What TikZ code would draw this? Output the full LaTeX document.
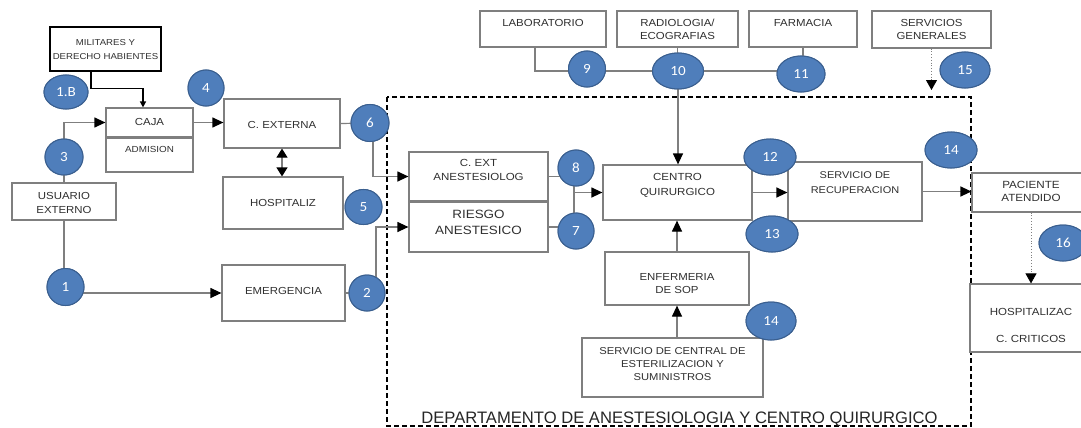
\documentclass[tikz,border=0pt]{standalone}
\usepackage{fontspec}
\setmainfont{Liberation Sans}[FakeStretch=1.12]
\newfontfamily\numfont{Carlito}[FakeStretch=1.08]
\newfontfamily\titlefont{Liberation Sans}
\usetikzlibrary{arrows.meta,shapes.geometric}
\definecolor{boxgray}{HTML}{7F7F7F}
\definecolor{txtgray}{HTML}{303030}
\definecolor{cfill}{HTML}{4F7EBB}
\definecolor{cdraw}{HTML}{3A5F8F}
\newcommand\tx[2]{\raisebox{#1}[\height][\depth]{\begin{tabular}{@{}c@{}}#2\end{tabular}}}
\begin{document}
\begin{tikzpicture}[x=1pt,y=-1pt,
  box/.style={draw=boxgray, line width=1.2pt, fill=white, inner sep=0pt, text=txtgray, font=\fontsize{10.2}{13.5}\selectfont},
  num/.style={ellipse, draw=cdraw, line width=1pt, fill=cfill, text=white, inner sep=0pt, font=\numfont\fontsize{14}{16}\selectfont},
  conn/.style={draw=boxgray, line width=1.2pt},
  arr/.style={conn, -{Triangle[length=11pt,width=10pt,color=black]}},
  darr/.style={conn, {Triangle[length=9pt,width=11pt,color=black]}-{Triangle[length=9pt,width=11pt,color=black]}},
  milarr/.style={draw=black, line width=1.8pt, -{Triangle[length=6pt,width=6pt]}},
  dotarr/.style={draw=gray, line width=0.8pt, dotted, -{Triangle[length=10pt,width=11pt,color=black]}},
  frame/.style={draw=black, line width=1.3pt, dash pattern=on 5pt off 3pt}]
\useasboundingbox (0,0) rectangle (1081,428);
\clip (0,0) rectangle (1081,428);
\fill[white] (0,0) rectangle (1081,428);

% department frame
\draw[frame] (387,97) rectangle (971,426);
\node[anchor=base, font=\titlefont\fontsize{16.6}{20}\selectfont, text=black!85, inner sep=0pt] (title) at (679.5,423) {DEPARTAMENTO DE ANESTESIOLOGIA Y CENTRO QUIRURGICO};

% boxes
\node[box, draw=black, line width=2pt, minimum width=111pt, minimum height=44pt, font=\fontsize{8.6}{14}\selectfont] (mil) at (105.5,49) {\tx{-1pt}{MILITARES Y\\DERECHO HABIENTES}};
\node[box, minimum width=87pt, minimum height=29pt] (caja) at (149.5,122.5) {\tx{0pt}{CAJA}};
\node[box, minimum width=87pt, minimum height=34pt, font=\fontsize{8.8}{12}\selectfont] (adm) at (149.5,155) {\tx{5pt}{ADMISION}};
\node[box, minimum width=104pt, minimum height=37pt, font=\fontsize{10.2}{14}\selectfont] (usu) at (64,201.5) {\tx{-2.5pt}{USUARIO\\EXTERNO}};
\node[box, minimum width=116pt, minimum height=49pt] (cext) at (282,123.5) {\tx{-2pt}{C. EXTERNA}};
\node[box, minimum width=120pt, minimum height=52pt] (hosp) at (283,203) {\tx{-1pt}{HOSPITALIZ}};
\node[box, minimum width=123pt, minimum height=56pt] (emer) at (283.5,293) {\tx{1.5pt}{EMERGENCIA}};
\node[box, minimum width=139pt, minimum height=49pt, font=\fontsize{10.3}{14}\selectfont] (cea) at (478.5,176.5) {\tx{5.5pt}{C. EXT\\ANESTESIOLOG}};
\node[box, minimum width=139pt, minimum height=50pt, font=\fontsize{12}{16}\selectfont] (rie) at (478.5,227) {\tx{4pt}{RIESGO\\ANESTESICO}};
\node[box, minimum width=149pt, minimum height=55pt, font=\fontsize{10.3}{15}\selectfont] (cq) at (677.5,192.5) {\tx{8pt}{CENTRO\\QUIRURGICO}};
\node[box, minimum width=126pt, minimum height=36pt] (lab) at (543,29) {\tx{5pt}{LABORATORIO}};
\node[box, minimum width=121pt, minimum height=36pt, font=\fontsize{10.2}{13}\selectfont] (rad) at (677.5,29) {\tx{-1.5pt}{RADIOLOGIA/\\ECOGRAFIAS}};
\node[box, minimum width=108pt, minimum height=36pt] (far) at (803,29) {\tx{5pt}{FARMACIA}};
\node[box, minimum width=119pt, minimum height=37pt, font=\fontsize{10.2}{13}\selectfont] (sg) at (931.5,29.5) {\tx{-1pt}{SERVICIOS\\GENERALES}};
\node[box, minimum width=134pt, minimum height=59pt, font=\fontsize{9.8}{15}\selectfont] (rec) at (855,191.5) {\tx{9pt}{SERVICIO DE\\RECUPERACION}};
\node[box, minimum width=118pt, minimum height=39pt, font=\fontsize{10.4}{13}\selectfont] (pac) at (1031,192.5) {\tx{0pt}{PACIENTE\\ATENDIDO}};
\node[box, minimum width=122pt, minimum height=68pt, font=\fontsize{10.3}{27}\selectfont] (hc) at (1031,318) {\tx{-5.5pt}{HOSPITALIZAC\\C. CRITICOS}};
\node[box, minimum width=144pt, minimum height=53pt, font=\fontsize{10.2}{13}\selectfont] (enf) at (677,278.5) {\tx{-6pt}{ENFERMERIA\\DE SOP}};
\node[box, minimum width=181pt, minimum height=59pt, font=\fontsize{10}{13}\selectfont] (sce) at (672.5,367.5) {\tx{3pt}{SERVICIO DE CENTRAL DE\\ESTERILIZACION Y\\SUMINISTROS}};

% circles (positions only, drawn later)
\path node[num, minimum width=44pt, minimum height=34pt] (c1b) at (66,92) {}
      node[num, minimum width=38pt, minimum height=36pt] (c3) at (64,157) {}
      node[num, minimum width=36pt, minimum height=36pt] (c4) at (206,88) {}
      node[num, minimum width=38pt, minimum height=37pt] (c6) at (370,123) {}
      node[num, minimum width=37pt, minimum height=35pt] (c5) at (363.5,207) {}
      node[num, minimum width=36pt, minimum height=36pt] (c2) at (367,293) {}
      node[num, minimum width=37pt, minimum height=37pt] (c1) at (65.5,287) {}
      node[num, minimum width=36pt, minimum height=36pt] (c8) at (576,168) {}
      node[num, minimum width=36pt, minimum height=36pt] (c7) at (576,231) {}
      node[num, minimum width=37pt, minimum height=36pt] (c9) at (587,69) {}
      node[num, minimum width=51pt, minimum height=36pt] (c10) at (678,71) {}
      node[num, minimum width=48pt, minimum height=36pt] (c11) at (801,74) {}
      node[num, minimum width=50pt, minimum height=36pt] (c15) at (965,70) {}
      node[num, minimum width=52pt, minimum height=36pt] (c12) at (770,157) {}
      node[num, minimum width=52pt, minimum height=36pt] (c13) at (772,234) {}
      node[num, minimum width=52pt, minimum height=36pt] (c14a) at (951,150) {}
      node[num, minimum width=50pt, minimum height=38pt] (c14b) at (771,321) {}
      node[num, minimum width=48pt, minimum height=36pt] (c16) at (1063,243) {};

% connectors
\draw[arr] (usu.north) |- (caja.west);
\draw[milarr] ([xshift=-14.5pt]mil.south) |- ([xshift=-6.5pt,yshift=19pt]caja.north) -- ([xshift=-6.5pt]caja.north);
\draw[arr] (caja.east) -- (caja.east -| cext.west);
\draw[darr] (cext.south) -- (cext.south |- hosp.north);
\draw[conn] (cext.east) -- (c6.center);
\draw[arr] ([xshift=3pt]c6.center) |- (cea.west);
\draw[conn] (usu.south) -- (usu.south |- c1.center);
\draw[arr] (c1.center |- emer.west) -- (emer.west);
\draw[conn] (emer.east) -- (c2.center);
\draw[arr] ([xshift=9pt]c2.center) |- (rie.west);
\draw[conn] (cea.east) -- (cea.east -| c8.center);
\draw[conn] (rie.east) -- (rie.east -| c7.center);
\draw[conn] ([xshift=-2pt]c8.center) -- ([xshift=-2pt]c7.center);
\draw[arr] ([xshift=-2pt]c8.center |- cq.west) -- (cq.west);
\draw[conn] ([xshift=-8pt]lab.south) |- (c10.center) -- (c10.center -| c11.center);
\draw[conn] (rad.south) -- (rad.south |- c10.center);
\draw[conn] (far.south) -- (far.south |- c11.center);
\draw[arr] (c10.center) -- (c10.center |- cq.north);
\draw[arr] (enf.north) -- (enf.north |- cq.south);
\draw[arr] (enf.south |- sce.north) -- (enf.south);
\draw[arr] (cq.east) -- (cq.east -| rec.west);
\draw[arr] (rec.east) -- (rec.east -| pac.west);
\coordinate (sgend) at (931.5,90);
\draw[dotarr] (sg.south) -- (sgend);
\draw[dotarr] (pac.south) -- (pac.south |- hc.north);

% circles drawn on top
\node[num, minimum width=44pt, minimum height=34pt] at (c1b) {1.B};
\node[num, minimum width=38pt, minimum height=36pt] at (c3) {3};
\node[num, minimum width=36pt, minimum height=36pt] at (c4) {4};
\node[num, minimum width=38pt, minimum height=37pt] at (c6) {6};
\node[num, minimum width=37pt, minimum height=35pt] at (c5) {5};
\node[num, minimum width=36pt, minimum height=36pt] at (c2) {2};
\node[num, minimum width=37pt, minimum height=37pt] at (c1) {1};
\node[num, minimum width=36pt, minimum height=36pt] at (c8) {8};
\node[num, minimum width=36pt, minimum height=36pt] at (c7) {7};
\node[num, minimum width=37pt, minimum height=36pt] at (c9) {9};
\node[num, minimum width=51pt, minimum height=36pt] at (c10) {10};
\node[num, minimum width=48pt, minimum height=36pt] at (c11) {11};
\node[num, minimum width=50pt, minimum height=36pt] at (c15) {15};
\node[num, minimum width=52pt, minimum height=36pt] at (c12) {12};
\node[num, minimum width=52pt, minimum height=36pt] at (c13) {13};
\node[num, minimum width=52pt, minimum height=36pt] at (c14a) {14};
\node[num, minimum width=50pt, minimum height=38pt] at (c14b) {14};
\node[num, minimum width=48pt, minimum height=36pt] at (c16) {16};
\end{tikzpicture}
\end{document}
